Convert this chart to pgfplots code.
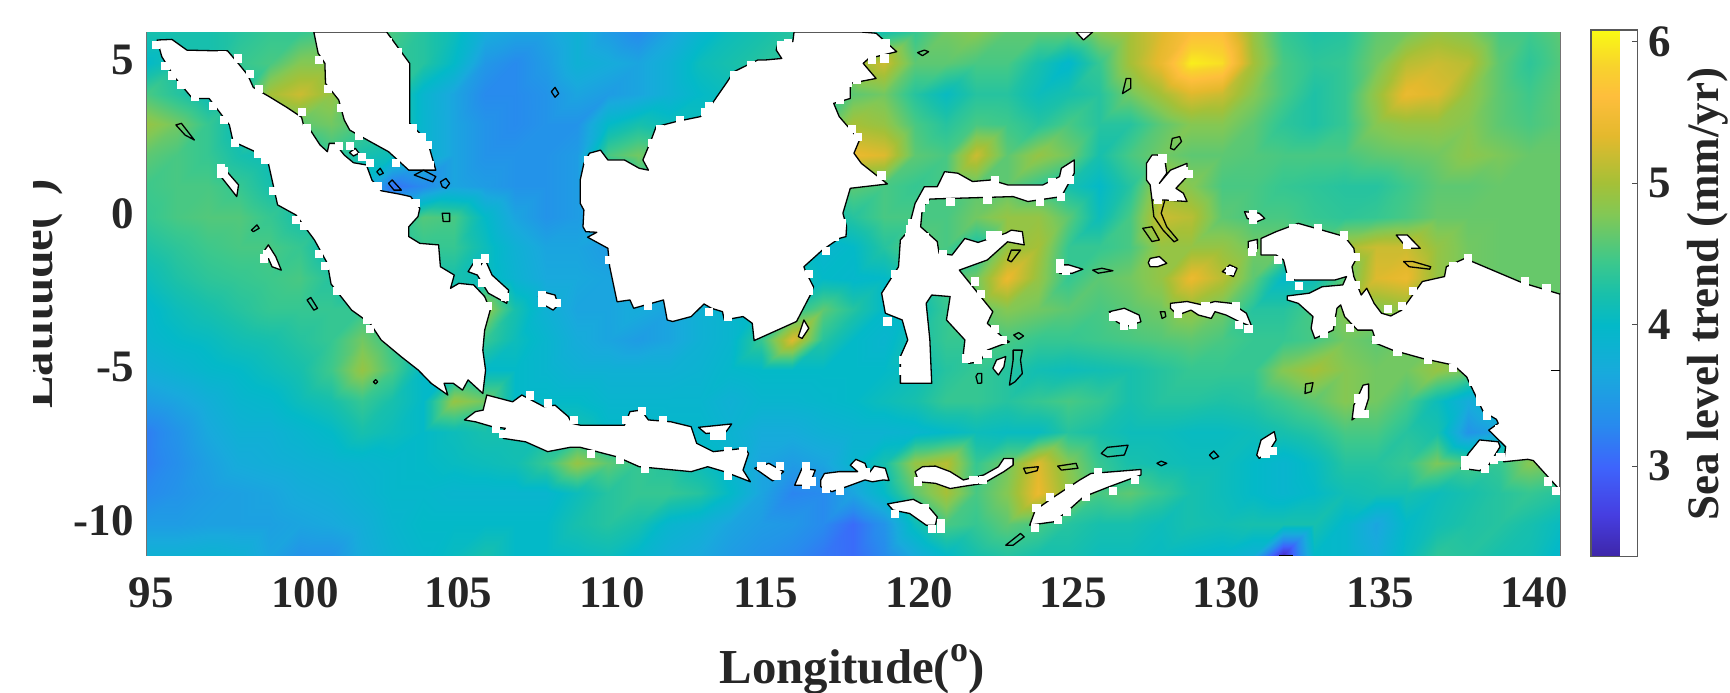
\documentclass[border=0pt]{standalone}
\usepackage{pgfplots}
\pgfplotsset{compat=1.18}
\usepackage{fontspec}
\setmainfont{Liberation Serif}
\pgfplotsset{colormap={pa}{rgb255(0pt)=(62,38,168) rgb255(80pt)=(70,62,225) rgb255(170pt)=(62,100,252) rgb255(250pt)=(40,138,238) rgb255(350pt)=(24,170,220) rgb255(440pt)=(3,185,200) rgb255(500pt)=(25,192,170) rgb255(560pt)=(60,200,140) rgb255(650pt)=(130,200,85) rgb255(710pt)=(165,192,55) rgb255(800pt)=(228,185,45) rgb255(875pt)=(254,190,60) rgb255(930pt)=(248,210,45) rgb255(1000pt)=(250,250,20)}}
\definecolor{txt}{rgb}{0.15,0.15,0.15}
\newcommand{\degsup}{\raisebox{11pt}{\fontsize{18}{20}\selectfont o}}
\begin{document}
\begin{tikzpicture}
\path[use as bounding box] (0,0) rectangle (865pt,346pt);
\begin{axis}[at={(73.35pt,68.5pt)},anchor=south west,scale only axis,width=706.65pt,height=261.5pt,
 xmin=95,xmax=141,ymin=-11,ymax=6,axis line style={draw=black!55,line width=0.4pt},
 xtick={95,100,...,140},ytick={-10,-5,0,5},yticklabels={-10,-5,0,5},
 xticklabels={95,100,105,110,115,120,125,130,135,140},
 tick style={draw=none},major tick length=0pt,
 tick label style={font=\fontsize{22.5}{24}\selectfont\bfseries,text=txt},
 xticklabel style={yshift=-8pt,xshift=2.3pt},yticklabel style={xshift=-3pt,yshift=1.5pt},
 colormap name=pa,point meta min=2.36,point meta max=6.08,
 colorbar,
 colorbar style={at={(1.0219,1.0038)},anchor=north west,width=23.3pt,height=263.4pt,
  ytick={3,4,5,6},yticklabels={3,4,5,6},ytick pos=right,tick style={draw=black!70,line width=0.4pt},major tick length=3pt,
  tick label style={font=\fontsize{22.5}{24}\selectfont\bfseries,text=txt},
  yticklabel style={xshift=2pt},
  axis line style={draw=black!65,line width=0.6pt}},
 land/.style={draw=black,line width=0.65pt,line join=round,fill=white},
 isle/.style={draw=black,line width=0.65pt,line join=round},
]
\addplot[surf,shader=interp,mesh/cols=47,point meta=explicit] coordinates {
(95,6)[4.2](96,6)[4.2](97,6)[4.2](98,6)[4.3](99,6)[4.4](100,6)[4.4](101,6)[4.5](102,6)[4.6](103,6)[4.5](104,6)[4.3](105,6)[4.1](106,6)[3.7](107,6)[3.6](108,6)[3.6](109,6)[3.8](110,6)[3.5](111,6)[3.3](112,6)[3.6](113,6)[3.9](114,6)[4.1](115,6)[4.2](116,6)[4.3](117,6)[4.3](118,6)[4.3](119,6)[4.2](120,6)[4.4](121,6)[4.7](122,6)[4.8](123,6)[4.6](124,6)[4.6](125,6)[4.6](126,6)[4.8](127,6)[5.0](128,6)[5.3](129,6)[5.6](130,6)[5.6](131,6)[4.9](132,6)[4.4](133,6)[4.25](134,6)[4.3](135,6)[4.6](136,6)[4.7](137,6)[4.9](138,6)[4.8](139,6)[4.5](140,6)[4.45](141,6)[4.6]
(95,5)[4.0](96,5)[4.2](97,5)[4.2](98,5)[4.4](99,5)[4.5](100,5)[4.8](101,5)[4.8](102,5)[4.6](103,5)[4.4](104,5)[4.3](105,5)[4.0](106,5)[3.45](107,5)[3.3](108,5)[3.5](109,5)[3.8](110,5)[3.7](111,5)[3.6](112,5)[3.8](113,5)[4.1](114,5)[4.2](115,5)[4.3](116,5)[4.3](117,5)[4.4](118,5)[4.9](119,5)[5.2](120,5)[4.6](121,5)[4.6](122,5)[4.5](123,5)[4.5](124,5)[4.2](125,5)[3.95](126,5)[4.4](127,5)[5.0](128,5)[5.4](129,5)[6.0](130,5)[5.9](131,5)[5.0](132,5)[4.5](133,5)[4.35](134,5)[4.4](135,5)[4.7](136,5)[5.1](137,5)[5.2](138,5)[5.1](139,5)[4.6](140,5)[4.35](141,5)[4.55]
(95,4)[4.5](96,4)[4.3](97,4)[4.1](98,4)[4.2](99,4)[5.0](100,4)[5.2](101,4)[4.9](102,4)[4.5](103,4)[4.4](104,4)[3.9](105,4)[3.6](106,4)[3.3](107,4)[3.3](108,4)[3.4](109,4)[3.6](110,4)[3.5](111,4)[3.6](112,4)[3.8](113,4)[4.0](114,4)[4.1](115,4)[4.3](116,4)[4.3](117,4)[4.3](118,4)[4.6](119,4)[4.7](120,4)[4.3](121,4)[4.05](122,4)[4.3](123,4)[4.3](124,4)[4.1](125,4)[4.2](126,4)[4.3](127,4)[4.7](128,4)[5.0](129,4)[5.3](130,4)[5.2](131,4)[4.8](132,4)[4.5](133,4)[4.25](134,4)[4.4](135,4)[4.9](136,4)[5.4](137,4)[5.3](138,4)[4.9](139,4)[4.6](140,4)[4.45](141,4)[4.6]
(95,3)[4.9](96,3)[4.7](97,3)[4.4](98,3)[4.1](99,3)[4.5](100,3)[4.6](101,3)[4.7](102,3)[4.5](103,3)[4.4](104,3)[3.9](105,3)[3.6](106,3)[3.4](107,3)[3.3](108,3)[3.4](109,3)[3.4](110,3)[4.0](111,3)[4.2](112,3)[4.1](113,3)[4.1](114,3)[4.3](115,3)[4.3](116,3)[4.3](117,3)[4.5](118,3)[5.0](119,3)[4.9](120,3)[4.5](121,3)[4.3](122,3)[4.5](123,3)[4.45](124,3)[4.3](125,3)[4.5](126,3)[4.3](127,3)[4.3](128,3)[4.6](129,3)[4.8](130,3)[4.8](131,3)[4.6](132,3)[4.35](133,3)[4.25](134,3)[4.4](135,3)[4.8](136,3)[4.9](137,3)[4.9](138,3)[4.8](139,3)[4.6](140,3)[4.5](141,3)[4.6]
(95,2)[4.6](96,2)[4.5](97,2)[4.4](98,2)[4.2](99,2)[4.1](100,2)[4.2](101,2)[4.4](102,2)[4.2](103,2)[4.1](104,2)[3.9](105,2)[3.6](106,2)[3.4](107,2)[3.4](108,2)[3.4](109,2)[3.5](110,2)[4.5](111,2)[4.7](112,2)[4.5](113,2)[4.3](114,2)[4.3](115,2)[4.3](116,2)[4.3](117,2)[4.6](118,2)[5.4](119,2)[5.3](120,2)[4.6](121,2)[4.5](122,2)[5.2](123,2)[4.6](124,2)[4.9](125,2)[4.7](126,2)[4.2](127,2)[4.5](128,2)[4.7](129,2)[4.6](130,2)[4.6](131,2)[4.55](132,2)[4.5](133,2)[4.5](134,2)[4.5](135,2)[4.6](136,2)[4.65](137,2)[4.7](138,2)[4.85](139,2)[4.75](140,2)[4.65](141,2)[4.65]
(95,1)[4.45](96,1)[4.5](97,1)[4.5](98,1)[4.4](99,1)[4.2](100,1)[4.2](101,1)[4.2](102,1)[3.9](103,1)[3.1](104,1)[3.3](105,1)[3.6](106,1)[3.5](107,1)[3.4](108,1)[3.4](109,1)[3.5](110,1)[3.7](111,1)[4.3](112,1)[4.3](113,1)[4.3](114,1)[4.3](115,1)[4.3](116,1)[4.3](117,1)[4.3](118,1)[4.6](119,1)[4.5](120,1)[4.4](121,1)[4.5](122,1)[4.6](123,1)[4.6](124,1)[4.4](125,1)[4.2](126,1)[4.0](127,1)[4.3](128,1)[5.0](129,1)[4.8](130,1)[4.5](131,1)[4.5](132,1)[4.4](133,1)[4.35](134,1)[4.3](135,1)[4.3](136,1)[4.45](137,1)[4.6](138,1)[4.6](139,1)[4.65](140,1)[4.65](141,1)[4.65]
(95,0)[4.4](96,0)[4.5](97,0)[4.55](98,0)[4.55](99,0)[4.4](100,0)[4.2](101,0)[4.2](102,0)[4.2](103,0)[4.0](104,0)[4.55](105,0)[4.5](106,0)[4.0](107,0)[3.6](108,0)[3.4](109,0)[3.5](110,0)[3.7](111,0)[4.0](112,0)[4.0](113,0)[4.0](114,0)[4.0](115,0)[4.0](116,0)[4.0](117,0)[4.1](118,0)[4.3](119,0)[4.5](120,0)[4.5](121,0)[4.5](122,0)[4.7](123,0)[4.9](124,0)[4.9](125,0)[4.6](126,0)[4.1](127,0)[4.5](128,0)[5.2](129,0)[5.1](130,0)[4.6](131,0)[4.5](132,0)[4.5](133,0)[4.4](134,0)[4.35](135,0)[4.4](136,0)[4.5](137,0)[4.65](138,0)[4.65](139,0)[4.65](140,0)[4.65](141,0)[4.65]
(95,-1)[4.25](96,-1)[4.35](97,-1)[4.45](98,-1)[4.5](99,-1)[4.5](100,-1)[4.4](101,-1)[4.1](102,-1)[4.2](103,-1)[4.2](104,-1)[4.4](105,-1)[4.4](106,-1)[4.1](107,-1)[3.8](108,-1)[3.6](109,-1)[3.6](110,-1)[3.5](111,-1)[3.8](112,-1)[3.8](113,-1)[3.8](114,-1)[3.8](115,-1)[3.9](116,-1)[3.9](117,-1)[3.9](118,-1)[4.0](119,-1)[4.3](120,-1)[4.6](121,-1)[4.5](122,-1)[4.2](123,-1)[4.9](124,-1)[5.0](125,-1)[4.4](126,-1)[4.4](127,-1)[4.5](128,-1)[4.9](129,-1)[4.9](130,-1)[4.9](131,-1)[4.7](132,-1)[4.7](133,-1)[4.7](134,-1)[5.0](135,-1)[5.2](136,-1)[5.2](137,-1)[4.9](138,-1)[4.7](139,-1)[4.65](140,-1)[4.65](141,-1)[4.65]
(95,-2)[4.1](96,-2)[4.25](97,-2)[4.35](98,-2)[4.4](99,-2)[4.45](100,-2)[4.5](101,-2)[4.3](102,-2)[4.1](103,-2)[4.1](104,-2)[4.2](105,-2)[4.2](106,-2)[4.1](107,-2)[3.85](108,-2)[3.65](109,-2)[3.65](110,-2)[3.6](111,-2)[3.7](112,-2)[3.7](113,-2)[3.8](114,-2)[3.9](115,-2)[4.0](116,-2)[4.2](117,-2)[4.0](118,-2)[3.95](119,-2)[4.0](120,-2)[4.2](121,-2)[4.5](122,-2)[4.7](123,-2)[5.4](124,-2)[4.9](125,-2)[4.4](126,-2)[4.6](127,-2)[4.7](128,-2)[4.9](129,-2)[5.4](130,-2)[5.1](131,-2)[4.6](132,-2)[4.0](133,-2)[4.1](134,-2)[4.6](135,-2)[5.3](136,-2)[5.4](137,-2)[4.9](138,-2)[4.7](139,-2)[4.65](140,-2)[4.65](141,-2)[4.65]
(95,-3)[3.95](96,-3)[4.1](97,-3)[4.2](98,-3)[4.3](99,-3)[4.4](100,-3)[4.4](101,-3)[4.4](102,-3)[4.4](103,-3)[4.2](104,-3)[4.3](105,-3)[4.2](106,-3)[4.9](107,-3)[4.2](108,-3)[3.8](109,-3)[3.6](110,-3)[3.6](111,-3)[3.7](112,-3)[3.6](113,-3)[3.8](114,-3)[3.9](115,-3)[4.1](116,-3)[4.3](117,-3)[4.6](118,-3)[4.3](119,-3)[4.0](120,-3)[4.1](121,-3)[4.4](122,-3)[4.6](123,-3)[4.8](124,-3)[4.7](125,-3)[4.6](126,-3)[4.5](127,-3)[4.6](128,-3)[4.7](129,-3)[4.9](130,-3)[4.7](131,-3)[4.3](132,-3)[4.3](133,-3)[4.5](134,-3)[4.8](135,-3)[4.8](136,-3)[4.9](137,-3)[4.7](138,-3)[4.7](139,-3)[4.65](140,-3)[4.65](141,-3)[4.65]
(95,-4)[3.9](96,-4)[4.0](97,-4)[4.05](98,-4)[4.15](99,-4)[4.2](100,-4)[4.3](101,-4)[4.4](102,-4)[4.7](103,-4)[4.4](104,-4)[4.1](105,-4)[4.1](106,-4)[4.4](107,-4)[4.1](108,-4)[3.9](109,-4)[3.7](110,-4)[3.6](111,-4)[3.5](112,-4)[3.6](113,-4)[3.8](114,-4)[3.9](115,-4)[4.4](116,-4)[5.3](117,-4)[4.3](118,-4)[4.0](119,-4)[3.9](120,-4)[4.2](121,-4)[4.4](122,-4)[4.4](123,-4)[4.5](124,-4)[4.4](125,-4)[4.4](126,-4)[4.45](127,-4)[4.5](128,-4)[4.55](129,-4)[4.6](130,-4)[4.5](131,-4)[4.4](132,-4)[4.4](133,-4)[4.5](134,-4)[4.7](135,-4)[4.6](136,-4)[4.7](137,-4)[4.7](138,-4)[4.7](139,-4)[4.65](140,-4)[4.65](141,-4)[4.65]
(95,-5)[3.75](96,-5)[3.85](97,-5)[3.95](98,-5)[4.0](99,-5)[4.1](100,-5)[4.2](101,-5)[4.45](102,-5)[4.9](103,-5)[4.5](104,-5)[4.0](105,-5)[4.0](106,-5)[4.0](107,-5)[4.0](108,-5)[3.9](109,-5)[3.8](110,-5)[3.8](111,-5)[3.8](112,-5)[3.8](113,-5)[3.85](114,-5)[3.95](115,-5)[4.0](116,-5)[4.0](117,-5)[4.0](118,-5)[4.0](119,-5)[4.0](120,-5)[4.1](121,-5)[4.3](122,-5)[4.4](123,-5)[4.3](124,-5)[4.15](125,-5)[4.1](126,-5)[4.15](127,-5)[4.2](128,-5)[4.3](129,-5)[4.4](130,-5)[4.4](131,-5)[4.4](132,-5)[4.8](133,-5)[5.0](134,-5)[4.8](135,-5)[4.7](136,-5)[4.7](137,-5)[4.9](138,-5)[4.7](139,-5)[4.5](140,-5)[4.5](141,-5)[4.5]
(95,-6)[3.5](96,-6)[3.6](97,-6)[3.75](98,-6)[3.9](99,-6)[3.95](100,-6)[4.1](101,-6)[4.2](102,-6)[4.4](103,-6)[4.2](104,-6)[4.0](105,-6)[4.9](106,-6)[4.7](107,-6)[4.0](108,-6)[4.0](109,-6)[4.0](110,-6)[3.9](111,-6)[3.9](112,-6)[3.9](113,-6)[3.9](114,-6)[3.8](115,-6)[3.9](116,-6)[3.9](117,-6)[3.95](118,-6)[4.0](119,-6)[4.1](120,-6)[4.2](121,-6)[4.4](122,-6)[4.4](123,-6)[4.3](124,-6)[4.4](125,-6)[4.5](126,-6)[4.4](127,-6)[4.2](128,-6)[4.3](129,-6)[4.3](130,-6)[4.25](131,-6)[4.3](132,-6)[4.45](133,-6)[4.6](134,-6)[4.8](135,-6)[4.7](136,-6)[4.5](137,-6)[4.1](138,-6)[3.7](139,-6)[4.0](140,-6)[4.5](141,-6)[4.5]
(95,-7)[3.2](96,-7)[3.4](97,-7)[3.65](98,-7)[3.8](99,-7)[3.8](100,-7)[3.9](101,-7)[4.0](102,-7)[4.2](103,-7)[4.1](104,-7)[4.0](105,-7)[4.1](106,-7)[4.2](107,-7)[4.2](108,-7)[4.2](109,-7)[4.2](110,-7)[4.0](111,-7)[4.0](112,-7)[3.95](113,-7)[3.95](114,-7)[3.85](115,-7)[3.7](116,-7)[3.7](117,-7)[3.8](118,-7)[3.85](119,-7)[3.85](120,-7)[3.9](121,-7)[4.0](122,-7)[4.1](123,-7)[4.05](124,-7)[4.05](125,-7)[4.3](126,-7)[4.2](127,-7)[4.1](128,-7)[4.1](129,-7)[4.05](130,-7)[4.05](131,-7)[4.1](132,-7)[4.2](133,-7)[4.3](134,-7)[4.5](135,-7)[4.5](136,-7)[4.3](137,-7)[4.2](138,-7)[3.4](139,-7)[3.6](140,-7)[4.5](141,-7)[4.5]
(95,-8)[3.2](96,-8)[3.35](97,-8)[3.55](98,-8)[3.7](99,-8)[3.75](100,-8)[3.8](101,-8)[3.85](102,-8)[3.9](103,-8)[3.95](104,-8)[4.0](105,-8)[4.05](106,-8)[4.1](107,-8)[4.15](108,-8)[4.4](109,-8)[4.9](110,-8)[4.6](111,-8)[4.4](112,-8)[4.3](113,-8)[4.1](114,-8)[3.9](115,-8)[3.6](116,-8)[3.5](117,-8)[3.6](118,-8)[3.9](119,-8)[4.2](120,-8)[4.9](121,-8)[5.1](122,-8)[4.4](123,-8)[4.7](124,-8)[5.3](125,-8)[4.8](126,-8)[4.4](127,-8)[4.2](128,-8)[4.15](129,-8)[4.1](130,-8)[4.1](131,-8)[4.0](132,-8)[3.9](133,-8)[4.05](134,-8)[4.3](135,-8)[4.3](136,-8)[4.4](137,-8)[4.75](138,-8)[4.5](139,-8)[4.4](140,-8)[4.8](141,-8)[4.7]
(95,-9)[3.3](96,-9)[3.4](97,-9)[3.5](98,-9)[3.55](99,-9)[3.6](100,-9)[3.7](101,-9)[3.75](102,-9)[3.85](103,-9)[3.95](104,-9)[3.95](105,-9)[3.9](106,-9)[3.9](107,-9)[3.9](108,-9)[3.9](109,-9)[4.1](110,-9)[4.3](111,-9)[4.4](112,-9)[4.4](113,-9)[4.3](114,-9)[4.0](115,-9)[3.6](116,-9)[3.25](117,-9)[3.3](118,-9)[3.6](119,-9)[4.0](120,-9)[4.6](121,-9)[5.0](122,-9)[4.5](123,-9)[4.8](124,-9)[5.4](125,-9)[4.9](126,-9)[4.5](127,-9)[4.6](128,-9)[4.4](129,-9)[4.2](130,-9)[4.1](131,-9)[4.0](132,-9)[3.9](133,-9)[4.0](134,-9)[4.15](135,-9)[4.2](136,-9)[4.2](137,-9)[4.1](138,-9)[4.2](139,-9)[4.3](140,-9)[4.4](141,-9)[4.3]
(95,-10)[3.5](96,-10)[3.5](97,-10)[3.55](98,-10)[3.55](99,-10)[3.55](100,-10)[3.6](101,-10)[3.65](102,-10)[3.75](103,-10)[3.9](104,-10)[4.0](105,-10)[4.0](106,-10)[4.0](107,-10)[4.0](108,-10)[4.0](109,-10)[4.2](110,-10)[4.3](111,-10)[4.2](112,-10)[3.9](113,-10)[3.8](114,-10)[3.6](115,-10)[3.5](116,-10)[3.45](117,-10)[3.3](118,-10)[3.05](119,-10)[3.4](120,-10)[4.1](121,-10)[4.5](122,-10)[4.4](123,-10)[4.6](124,-10)[4.5](125,-10)[4.3](126,-10)[4.2](127,-10)[4.2](128,-10)[4.1](129,-10)[4.2](130,-10)[4.15](131,-10)[4.2](132,-10)[4.2](133,-10)[4.2](134,-10)[3.95](135,-10)[3.6](136,-10)[4.0](137,-10)[4.15](138,-10)[4.25](139,-10)[4.3](140,-10)[4.2](141,-10)[4.05]
(95,-11)[3.8](96,-11)[3.8](97,-11)[3.85](98,-11)[3.8](99,-11)[3.6](100,-11)[3.4](101,-11)[3.4](102,-11)[3.7](103,-11)[3.85](104,-11)[3.95](105,-11)[4.05](106,-11)[4.2](107,-11)[4.0](108,-11)[4.0](109,-11)[4.05](110,-11)[4.1](111,-11)[3.95](112,-11)[3.75](113,-11)[3.65](114,-11)[3.5](115,-11)[3.4](116,-11)[3.3](117,-11)[3.15](118,-11)[3.05](119,-11)[3.3](120,-11)[3.7](121,-11)[4.0](122,-11)[4.2](123,-11)[4.3](124,-11)[4.2](125,-11)[4.2](126,-11)[4.1](127,-11)[4.1](128,-11)[4.05](129,-11)[4.0](130,-11)[3.95](131,-11)[3.8](132,-11)[2.5](133,-11)[4.0](134,-11)[3.95](135,-11)[3.7](136,-11)[4.05](137,-11)[4.35](138,-11)[4.3](139,-11)[4.2](140,-11)[4.15](141,-11)[3.95]
};
% masked grid cells along the coasts
\addplot[only marks,white,mark=square*,mark size=1.8pt,mark options={solid,draw=white,fill=white,line width=0.1pt}] coordinates {
(95.3,5.6)(95.6,4.9)(95.8,4.6)(96.1,4.3)(96.55,3.9)(97.15,3.6)(97.5,3.15)(97.85,2.4)(98.6,2.05)(98.85,1.85)(99.1,0.85)(99.85,-0.1)(100.1,-0.3)(100.6,-1.2)(100.8,-1.6)(101.2,-2.4)(102.15,-3.35)(102.25,-3.65)
(97.45,5.25)(97.95,5.15)(98.35,4.65)(98.65,4.15)(100.05,3.4)(100.2,2.9)
(100.6,5.1)(100.9,4.15)(101.3,3.55)(101.9,2.65)(102.85,5.7)(103.15,5.35)(103.65,2.9)(103.95,2.6)(104.15,2.35)(104.2,1.7)(103.1,1.75)
(101.25,2.3)(101.6,2.3)(102,1.95)(102.25,1.75)(102.5,1)(103.75,0.45)
(97.4,1.6)(97.5,1.5)(97.4,1.4)(98.9,-1.2)(98.8,-1.35)
(106,-1.35)(105.75,-1.5)(105.9,-2.15)(106.1,-2.9)(106.65,-2.6)(107.85,-2.8)(107.85,-2.55)(108.35,-2.8)
(109.35,1.85)(111.7,2.85)(111.45,2.4)(112.35,3.15)(113.15,3.4)(113.3,3.6)(114.1,4.6)(114.65,4.95)(115.65,5.6)(115.85,5.65)(119.05,5.65)(119,5.15)(118.6,5.1)(117.8,4.35)(118.1,4.45)(117.55,3.8)(117.95,2.85)(118.15,2.6)(118.9,1.35)
(117.6,-0.2)(117.4,-0.65)(117.1,-1.1)(116.55,-1.85)(116.55,-2.4)(111.3,-2.9)(113.3,-3.1)(113.9,-3.25)(110.05,-1.4)
(119.9,-0.2)(119.85,-0.4)(120.2,0.3)(120.3,0.55)(122.6,1.2)(124.45,1.15)(125.05,1.2)(124.75,0.65)(121.15,0.5)(122.35,0.55)(124.05,0.5)(119.8,-0.65)(120.3,-0.65)(122.45,-0.6)(122.7,-0.6)(120.9,-1.2)(121.95,-2.1)(122.15,-2.5)(119.35,-1.85)(122.6,-3.65)(119.1,-3.4)(122.85,-4)
(124.7,-1.7)(124.9,-1.75)(124.7,-1.5)(126.45,-3.25)(126.8,-3.55)(127.1,-3.5)
(127.7,1.4)(127.9,0.55)(128.05,1.9)(128.75,1.5)(128.9,1.4)(128.4,0.65)(127.9,0.65)
(131,0.1)(131,-0.1)(131,-1)(130.95,-1.15)(130.25,-1.75)
(132.3,-0.35)(133.1,-0.35)(133.95,-0.6)(131.8,-1.4)(132.2,-1.95)(132.5,-2.25)(134.35,-1.3)(134.35,-2.2)(136,-0.9)
(130.45,-2.9)(130.55,-3.5)(130.85,-3.65)(128.55,-3.15)(129.45,-2.9)
(137.5,-1.6)(138,-1.35)(139.85,-2.1)(140.55,-2.3)(136.2,-2.4)(135.85,-2.9)(135.4,-3)(133.55,-3.4)(133.3,-3.8)(133.1,-3.4)(135,-4)(134.15,-3.6)
(135.7,-4.4)(136.7,-4.65)(137.5,-4.9)(138.15,-5.35)(138.4,-5.75)(138.4,-6)(138.6,-6.45)(139,-6.9)(139.05,-7.8)(140.6,-8.6)(140.85,-8.9)
(137.9,-7.9)(137.9,-8.1)(138.55,-8.2)(138.85,-7.9)(134.4,-5.9)(134.65,-6.4)(134.4,-6.4)(131.65,-7.6)(131.4,-7.7)
(106.35,-6.9)(106.6,-7.05)(107.45,-5.8)(108.05,-6.05)(108.9,-6.6)
(109.45,-7.7)(110.4,-7.9)(111.2,-8.2)(110.6,-6.6)(111.1,-6.3)(111.8,-6.6)(113.9,-7.6)(114.4,-7.6)(113.9,-8.4)(113.45,-7.1)(113.7,-7.1)
(115.6,-8.1)(115.5,-8.4)(115,-8.1)(116.45,-8.1)(116.65,-8.6)(116.45,-8.7)
(117.55,-8.9)(117.1,-8.85)(118.4,-8.3)
(120.1,-8.6)(121.9,-8.55)(122.2,-8.55)
(119.35,-9.65)(120.3,-9.45)(120.85,-9.95)(120.55,-10.15)(120.85,-10.15)
(123.95,-9.45)(123.9,-10.1)(124.4,-9.1)(124.65,-9.85)(124.95,-9.6)(125,-8.8)(125.55,-9.1)(126.45,-8.9)(127.15,-8.55)(125.95,-8.3)
(119.6,-4.65)(119.6,-5)(121.65,-4.6)(122.05,-4.65)(122.35,-4.45)
};
% Sumatra
\addplot[land] coordinates {(95.34,5.74)(95.82,5.76)(96.31,5.41)(97.21,5.39)(97.63,5.39)(97.93,5.04)(98.29,4.6)(98.47,4.2)(99.02,3.88)(99.56,3.55)(100.04,3.23)(100.13,2.87)(100.34,2.79)(100.64,2.33)(100.88,2.11)(100.94,2.38)(101.13,2.38)(101.43,2.0)(101.73,1.75)(102.15,1.68)(102.33,1.19)(102.63,0.84)(103.23,0.73)(103.59,0.65)(103.89,0.27)(103.83,0.0)(103.53,-0.33)(103.53,-0.65)(103.89,-0.87)(104.5,-0.92)(104.56,-1.63)(105.01,-1.9)(104.89,-2.33)(105.16,-2.17)(105.64,-2.22)(106.0,-2.6)(106.18,-3.04)(106.0,-3.69)(105.94,-4.34)(106.03,-4.99)(105.94,-5.75)(105.46,-5.31)(105.28,-5.64)(104.98,-5.42)(104.68,-5.42)(104.8,-5.8)(104.26,-5.42)(103.84,-4.99)(103.29,-4.56)(102.63,-4.01)(102.27,-3.47)(101.67,-3.04)(101.0,-2.19)(100.88,-1.52)(100.46,-0.76)(99.86,0.05)(99.26,0.38)(98.96,1.73)(98.53,2.11)(97.81,2.44)(97.69,2.98)(97.03,3.84)(96.49,3.84)(95.89,4.55)(95.49,5.2)} -- cycle;
% Malay peninsula
\addplot[land] coordinates {(100.44,6.0)(100.58,5.31)(100.8,4.98)(100.82,4.33)(101.25,3.79)(101.43,3.14)(101.61,2.81)(102.27,2.44)(102.87,2.11)(103.53,1.51)(104.41,1.51)(104.19,2.27)(103.95,2.65)(103.56,3.03)(103.56,4.98)(102.81,6.0)} -- cycle;
% Borneo
\addplot[land] coordinates {(116.07,6.0)(116.03,5.69)(115.55,5.65)(115.49,5.41)(115.67,5.14)(115.13,5.09)(114.89,5.09)(114.11,4.71)(113.86,4.33)(113.56,3.9)(113.26,3.46)(113.02,3.25)(112.24,3.09)(111.58,2.92)(111.4,2.44)(111.15,1.84)(111.33,1.51)(111.03,1.57)(110.55,1.84)(110.01,1.84)(109.77,2.16)(109.41,2.06)(109.23,1.73)(109.11,1.19)(109.11,0.43)(109.23,0.21)(109.2,-0.33)(109.29,-0.49)(109.65,-0.51)(109.35,-0.67)(110.01,-1.03)(110.07,-1.63)(110.31,-2.77)(110.73,-2.71)(110.85,-2.98)(111.82,-2.71)(111.94,-3.36)(112.12,-3.41)(112.72,-3.25)(113.14,-2.84)(113.38,-2.98)(113.74,-3.09)(113.8,-3.36)(114.41,-3.25)(114.71,-3.47)(114.77,-4.03)(116.15,-3.41)(116.63,-2.49)(116.7,-2.28)(116.45,-1.79)(116.39,-1.63)(116.99,-1.09)(117.54,-0.71)(117.76,-0.65)(117.78,-0.33)(117.66,0.11)(117.9,0.92)(119.11,1.06)(118.26,1.73)(118.02,2.06)(118.2,2.49)(117.54,3.25)(117.36,3.68)(117.9,3.84)(117.9,4.33)(118.74,4.49)(118.32,4.98)(118.5,5.14)(119.41,5.36)(118.74,5.96)(118.26,6.0)} -- cycle;
% Sulawesi
\addplot[land] coordinates {(120.55,-5.42)(119.53,-5.42)(119.53,-4.55)(119.77,-4.01)(119.59,-3.36)(119.04,-3.14)(118.92,-2.49)(119.47,-1.63)(119.53,-0.76)(119.77,-0.49)(120.01,0.43)(120.31,0.97)(120.73,0.97)(120.97,1.46)(121.4,1.41)(121.88,1.14)(122.48,1.19)(123.02,1.03)(124.17,1.03)(124.71,1.3)(124.77,1.57)(125.19,1.84)(125.19,1.41)(124.77,0.65)(123.68,0.49)(123.2,0.65)(121.15,0.59)(120.49,0.57)(120.25,0.32)(120.19,-0.33)(120.73,-0.81)(120.79,-1.19)(121.21,-1.25)(121.63,-0.71)(122.06,-0.84)(122.96,-0.54)(123.14,-0.44)(123.5,-0.49)(123.56,-0.92)(123.02,-0.82)(122.36,-1.41)(121.45,-1.74)(122.54,-3.09)(122.36,-3.47)(122.96,-4.01)(123.08,-4.07)(122.36,-4.34)(122.12,-4.72)(121.76,-4.77)(121.58,-4.45)(121.63,-4.01)(121.03,-3.36)(121.15,-2.6)(120.55,-2.55)(120.37,-2.82)(120.49,-4.01)} -- cycle;
% Java
\addplot[land] coordinates {(105.34,-6.61)(105.7,-6.34)(105.95,-6.29)(106.07,-5.8)(106.91,-6.02)(107.21,-5.8)(107.93,-6.18)(108.29,-6.13)(108.72,-6.5)(108.84,-6.72)(109.11,-6.78)(110.55,-6.78)(110.73,-6.34)(111.09,-6.29)(111.33,-6.61)(112.06,-6.67)(112.72,-6.83)(112.9,-7.37)(113.44,-7.64)(114.47,-7.53)(114.59,-7.7)(114.41,-8.24)(114.65,-8.62)(113.8,-8.29)(113.26,-8.13)(112.72,-8.29)(111.03,-8.13)(110.31,-7.81)(109.11,-7.5)(108.78,-7.5)(108.05,-7.64)(107.33,-7.32)(106.61,-7.21)(106.55,-7.05)(106.67,-6.88)(106.25,-6.83)(105.7,-6.67)} -- cycle;
% New Guinea
\addplot[land] coordinates {(131.27,-0.71)(131.76,-0.49)(132.48,-0.22)(133.26,-0.44)(133.99,-0.65)(134.29,-1.03)(134.35,-1.41)(134.23,-1.63)(134.29,-1.95)(134.53,-2.55)(134.71,-2.33)(134.95,-2.82)(135.19,-3.14)(135.49,-3.23)(135.85,-3.04)(136.52,-2.11)(137.24,-1.95)(137.3,-1.63)(137.9,-1.36)(139.77,-2.15)(141,-2.52)(141,-8.89)(140.13,-7.93)(139.95,-7.89)(139.17,-7.97)(139.23,-7.48)(138.68,-6.94)(138.99,-6.72)(138.93,-6.59)(138.5,-6.34)(137.96,-5.21)(137.54,-4.83)(136.52,-4.61)(135.55,-4.34)(134.89,-4.07)(135.0,-4.01)(134.89,-3.69)(134.41,-3.69)(133.99,-3.25)(133.86,-2.87)(133.74,-2.98)(133.62,-3.69)(133.02,-3.96)(132.9,-3.63)(132.96,-3.25)(132.48,-2.82)(132.12,-2.71)(132.12,-2.58)(132.84,-2.49)(133.26,-2.28)(133.93,-2.22)(134.05,-1.95)(133.68,-2.06)(132.36,-2.06)(132.12,-1.9)(132.0,-1.41)(131.76,-1.25)(131.27,-1.25)} -- cycle;
% Halmahera
\addplot[land] coordinates {(127.54,1.73)(127.72,2.0)(127.9,2.0)(128.14,1.84)(128.2,1.41)(127.96,1.08)(128.32,1.51)(128.86,1.73)(128.86,1.3)(128.5,0.92)(128.74,0.76)(128.86,0.49)(128.14,0.54)(127.72,0.54)(127.66,1.03)(127.54,1.19)} -- cycle;
\addplot[isle] coordinates {(128.14,0.54)(128.02,0.11)(128.2,-0.33)(128.56,-0.76)(128.44,-0.82)(128.08,-0.44)(127.78,0.0)(127.72,0.54)};
% Filled islands
\addplot[land] coordinates {(112.96,-6.85)(114.04,-6.74)(113.86,-6.99)(113.2,-7.05)} -- cycle;
\addplot[land] coordinates {(114.79,-8.18)(115.25,-8.02)(115.73,-8.29)(115.37,-8.59)} -- cycle;
\addplot[land] coordinates {(116.33,-8.18)(116.76,-8.24)(116.57,-8.73)(116.09,-8.73)} -- cycle;
\addplot[land] coordinates {(116.94,-8.56)(116.94,-8.78)(117.3,-8.94)(117.78,-8.78)(118.38,-8.56)(118.62,-8.62)(118.98,-8.56)(119.16,-8.58)(119.04,-8.18)(118.68,-8.11)(118.5,-8.35)(118.38,-8.02)(118.08,-7.89)(117.9,-8.08)(118.14,-8.29)(117.54,-8.29)(117.06,-8.35)} -- cycle;
\addplot[land] coordinates {(120.01,-8.29)(120.25,-8.13)(120.67,-8.11)(121.15,-8.29)(121.58,-8.56)(122.24,-8.4)(122.72,-8.13)(122.9,-7.86)(123.2,-7.86)(123.2,-8.08)(122.9,-8.29)(122.24,-8.67)(121.64,-8.76)(121.15,-8.84)(120.67,-8.67)(120.13,-8.62)} -- cycle;
\addplot[land] coordinates {(119.11,-9.34)(119.95,-9.19)(120.49,-9.48)(120.73,-9.76)(120.67,-10.03)(120.37,-10.03)(119.83,-9.65)(119.29,-9.54)} -- cycle;
\addplot[land] coordinates {(123.74,-10.03)(123.92,-9.54)(124.53,-9.11)(125.37,-8.56)(125.73,-8.35)(127.36,-8.22)(127.36,-8.4)(126.33,-8.78)(125.49,-9.11)(125.01,-9.54)(124.53,-9.92)} -- cycle;
\addplot[land] coordinates {(128.32,-2.82)(128.86,-2.76)(129.35,-2.87)(129.77,-2.76)(130.31,-2.82)(130.79,-3.14)(130.97,-3.58)(130.55,-3.41)(130.13,-3.2)(129.77,-3.09)(129.65,-3.31)(129.23,-3.2)(128.99,-3.04)(128.56,-3.2)(128.32,-2.98)} -- cycle;
\addplot[land] coordinates {(137.78,-8.18)(138.02,-7.7)(138.38,-7.26)(138.99,-7.32)(139.05,-7.48)(138.68,-8.08)(138.38,-8.26)} -- cycle;
\addplot[land] coordinates {(105.46,-1.79)(105.7,-1.41)(105.88,-1.57)(106.0,-1.36)(106.24,-1.9)(106.78,-2.39)(106.72,-2.82)(106.12,-2.49)(105.76,-1.9)} -- cycle;
\addplot[land] coordinates {(107.75,-2.6)(107.87,-2.44)(108.29,-2.55)(108.39,-2.87)(108.23,-3.04)(107.93,-2.87)} -- cycle;
\addplot[land] coordinates {(126.33,-3.09)(126.82,-2.98)(127.3,-3.2)(127.36,-3.42)(126.87,-3.58)(126.57,-3.42)} -- cycle;
\addplot[land] coordinates {(124.65,-1.57)(125.01,-1.57)(125.47,-1.71)(125.13,-1.84)(124.71,-1.84)} -- cycle;
\addplot[land] coordinates {(130.85,-0.81)(131.15,-0.74)(131.15,-1.03)(130.97,-1.14)(130.85,-1.03)} -- cycle;
\addplot[land] coordinates {(130.73,0.16)(131.21,0.11)(131.39,-0.06)(131.15,-0.16)(130.82,-0.06)} -- cycle;
\addplot[land] coordinates {(135.67,-0.6)(136.03,-0.6)(136.45,-1.03)(136.03,-1.03)(135.85,-0.82)} -- cycle;
\addplot[land] coordinates {(130.01,-1.79)(130.25,-1.57)(130.49,-1.68)(130.37,-1.95)(130.13,-1.84)} -- cycle;
\addplot[land] coordinates {(125.25,6)(125.49,5.74)(125.79,6)} -- cycle;
\addplot[land] coordinates {(134.23,-6.61)(134.29,-6.13)(134.47,-5.75)(134.59,-5.48)(134.77,-5.44)(134.77,-5.91)(134.65,-6.29)} -- cycle;
\addplot[land] coordinates {(131.13,-7.75)(131.27,-7.26)(131.7,-6.99)(131.76,-7.26)(131.52,-7.64)(131.21,-7.86)} -- cycle;
\addplot[land] coordinates {(127.66,-1.36)(127.96,-1.3)(128.2,-1.52)(127.9,-1.63)(127.66,-1.63)(127.6,-1.5)} -- cycle;
\addplot[land] coordinates {(97.33,1.41)(97.57,1.51)(97.99,1.03)(97.93,0.65)(97.63,1.03)} -- cycle;
\addplot[land] coordinates {(98.84,-1.09)(98.96,-0.92)(99.2,-1.3)(99.38,-1.74)(99.08,-1.63)} -- cycle;
\addplot[land] coordinates {(101.6,2.08)(101.79,2.22)(101.91,2.06)(101.73,1.97)} -- cycle;
\addplot[land] coordinates {(116.21,-3.9)(116.39,-3.36)(116.55,-3.63)(116.33,-3.96)} -- cycle;
\addplot[land] coordinates {(122.54,-4.93)(122.66,-4.66)(122.96,-4.55)(122.9,-4.88)(122.72,-5.15)} -- cycle;
% Unfilled coast outlines
\addplot[isle] coordinates {(127.88,-8.02)(128.02,-7.95)(128.2,-8.02)(128.02,-8.1)} -- cycle;
\addplot[isle] coordinates {(129.59,-7.75)(129.73,-7.62)(129.89,-7.8)(129.71,-7.88)} -- cycle;
\addplot[isle] coordinates {(132.7,-5.75)(132.72,-5.44)(132.96,-5.4)(132.9,-5.69)} -- cycle;
\addplot[isle] coordinates {(135.91,-1.46)(136.21,-1.46)(136.79,-1.63)(136.76,-1.71)(136.09,-1.63)} -- cycle;
\addplot[isle] coordinates {(127.42,-0.38)(127.72,-0.33)(127.96,-0.76)(127.72,-0.81)} -- cycle;
\addplot[isle] coordinates {(128.32,2.22)(128.38,2.54)(128.62,2.6)(128.68,2.44)(128.44,2.17)} -- cycle;
\addplot[isle] coordinates {(127.99,-3.09)(128.14,-3.09)(128.17,-3.25)(128.05,-3.31)} -- cycle;
\addplot[isle] coordinates {(122.96,-10.68)(123.44,-10.3)(123.56,-10.41)(123.2,-10.68)} -- cycle;
\addplot[isle] coordinates {(123.54,-8.18)(124.02,-8.13)(123.98,-8.26)(123.62,-8.35)} -- cycle;
\addplot[isle] coordinates {(124.65,-8.11)(125.25,-8.02)(125.31,-8.18)(124.77,-8.24)} -- cycle;
\addplot[isle] coordinates {(126.07,-7.7)(126.27,-7.5)(126.94,-7.43)(126.82,-7.75)(126.27,-7.81)} -- cycle;
\addplot[isle] coordinates {(123.08,-5.48)(123.2,-4.66)(123.2,-4.34)(123.5,-4.34)(123.44,-4.66)(123.5,-5.1)(123.26,-5.37)} -- cycle;
\addplot[isle] coordinates {(121.99,-5.2)(122.05,-5.1)(122.18,-5.1)(122.18,-5.41)(122.05,-5.42)} -- cycle;
\addplot[isle] coordinates {(123.22,-3.85)(123.38,-3.77)(123.54,-3.88)(123.38,-3.99)} -- cycle;
\addplot[isle] coordinates {(125.79,-1.74)(126.09,-1.68)(126.45,-1.76)(125.97,-1.84)} -- cycle;
\addplot[isle] coordinates {(123.02,-1.41)(123.14,-1.09)(123.44,-1.09)(123.14,-1.47)} -- cycle;
\addplot[isle] coordinates {(120.09,5.33)(120.31,5.41)(120.45,5.36)(120.25,5.23)} -- cycle;
\addplot[isle] coordinates {(126.76,4.0)(126.88,4.49)(127.03,4.49)(127.03,4.17)} -- cycle;
\addplot[isle] coordinates {(95.95,2.98)(96.13,3.03)(96.55,2.49)(96.25,2.65)} -- cycle;
\addplot[isle] coordinates {(98.41,-0.44)(98.59,-0.27)(98.66,-0.38)(98.47,-0.49)} -- cycle;
\addplot[isle] coordinates {(100.22,-2.71)(100.34,-2.63)(100.56,-2.98)(100.44,-3.04)} -- cycle;
\addplot[isle] coordinates {(102.49,1.46)(102.6,1.57)(102.7,1.41)(102.58,1.35)} -- cycle;
\addplot[isle] coordinates {(102.87,1.08)(102.99,1.19)(103.29,0.86)(103.05,0.86)} -- cycle;
\addplot[isle] coordinates {(103.71,1.35)(104.01,1.51)(104.41,1.3)(104.31,1.13)} -- cycle;
\addplot[isle] coordinates {(104.56,1.13)(104.74,1.24)(104.86,1.08)(104.74,0.92)(104.62,0.97)} -- cycle;
\addplot[isle] coordinates {(104.62,0.11)(104.86,0.11)(104.86,-0.16)(104.65,-0.16)} -- cycle;
\addplot[isle] coordinates {(108.17,4.06)(108.29,4.2)(108.41,4.0)(108.29,3.88)} -- cycle;
\addplot[isle] coordinates {(102.38,-5.37)(102.45,-5.3)(102.52,-5.37)(102.45,-5.44)} -- cycle;
\addplot[isle] coordinates {(131.85,-11.02)(132.3,-11.02)} ;
\addplot[draw=black,line width=0.5pt] coordinates {(140.7,-5)(141,-5)};
\end{axis}
\node[rotate=90,anchor=base,font=\fontsize{24.4}{26}\selectfont\bfseries,text=txt] at (26pt,199pt) {Latitude(\degsup)};
\fill[white] (0,0) rectangle (16.5pt,346pt);
\node[anchor=base,font=\fontsize{24.4}{26}\selectfont\bfseries,text=txt] at (426pt,4.5pt) {Longitude(\degsup)};
\node[rotate=90,anchor=base,font=\fontsize{22.5}{24}\selectfont\bfseries,text=txt] at (859pt,199pt) {Sea level trend (mm/yr)};
\end{tikzpicture}
\end{document}
